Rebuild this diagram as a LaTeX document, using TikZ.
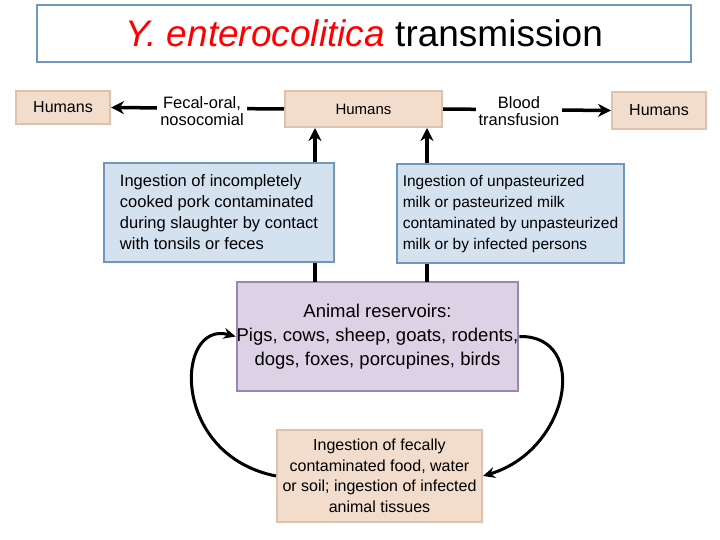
\documentclass[tikz,border=0pt]{standalone}
\usepackage{fontspec}
\setmainfont{Liberation Sans}
\usetikzlibrary{arrows.meta}
\definecolor{peach}{HTML}{F2DCCB}
\definecolor{peachb}{HTML}{E0C2AC}
\definecolor{lblue}{HTML}{D4E1EE}
\definecolor{lblueb}{HTML}{6F98BD}
\definecolor{lpur}{HTML}{DCD1E5}
\definecolor{lpurb}{HTML}{9A86B0}
\begin{document}
\begin{tikzpicture}[x=1pt,y=-1pt,
  box/.style={draw=#1,line width=2pt,inner sep=0pt,align=center},
  arr/.style={line width=3.5pt,-{Stealth[length=13pt,width=13pt]}},
  t/.style={font=\fontsize{#1}{#1}\selectfont}]
\useasboundingbox (0,0) rectangle (720,540);
\node[draw=lblueb,line width=1.5pt,minimum width=654,minimum height=57,inner sep=0pt] (title) at (364,33.5)
  {\fontsize{37}{37}\selectfont\textcolor{red}{\itshape Y. enterocolitica} transmission};
\node[box=peachb,fill=peach,minimum width=94,minimum height=33,t=16] (hl) at (63,107.5) {Humans};
\node[box=peachb,fill=peach,minimum width=157,minimum height=36,t=15] (hc) at (363.5,109) {Humans};
\node[box=peachb,fill=peach,minimum width=94,minimum height=37,t=16] (hr) at (659,110.5) {Humans};
\node[box=lpurb,fill=lpur,minimum width=281,minimum height=109,font=\fontsize{18.5}{24}\selectfont] (ar) at (377.5,336.5)
  {Animal reservoirs:\\Pigs, cows, sheep, goats, rodents,\\dogs, foxes, porcupines, birds};
\coordinate (a1) at (315,282);
\coordinate (a2) at (427,282);
\draw[arr] (a1) -- (a1 |- hc.south);
\draw[arr] (a2) -- (a2 |- hc.south);
\node[box=lblueb,fill=lblue,minimum width=230,minimum height=99,align=left,font=\fontsize{16.5}{21}\selectfont] (bl) at (219,212.5)
  {Ingestion of incompletely\\cooked pork contaminated\\during slaughter by contact\\with tonsils or feces};
\node[box=lblueb,fill=lblue,minimum width=227,minimum height=99,align=left,font=\fontsize{15.5}{21}\selectfont] (br) at (510.5,213.5)
  {Ingestion of unpasteurized\\milk or pasteurized milk\\contaminated by unpasteurized\\milk or by infected persons};
\node[box=peachb,fill=peach,minimum width=205,minimum height=92,font=\fontsize{16}{20.5}\selectfont] (bot) at (379.5,476)
  {Ingestion of fecally\\contaminated food, water\\or soil; ingestion of infected\\animal tissues};
\draw[arr] (hc.west) -- (hl.east);
\draw[arr] (hc.east) -- (hr.west);
\node[fill=white,t=16.5,align=center,inner sep=3pt] (lab1) at (202,111) {Fecal-oral,\\nosocomial};
\node[fill=white,t=16.5,align=center,inner sep=3pt] (lab2) at (519,111) {Blood\\transfusion};
\draw[line width=3pt,-{Stealth[length=12pt,width=11pt]}] (bot.west) .. controls (170,455) and (175,320) .. (ar.west);
\draw[line width=3pt,-{Stealth[length=12pt,width=11pt]}] (ar.east) .. controls (590,335) and (570,450) .. (bot.east);
\end{tikzpicture}
\end{document}
